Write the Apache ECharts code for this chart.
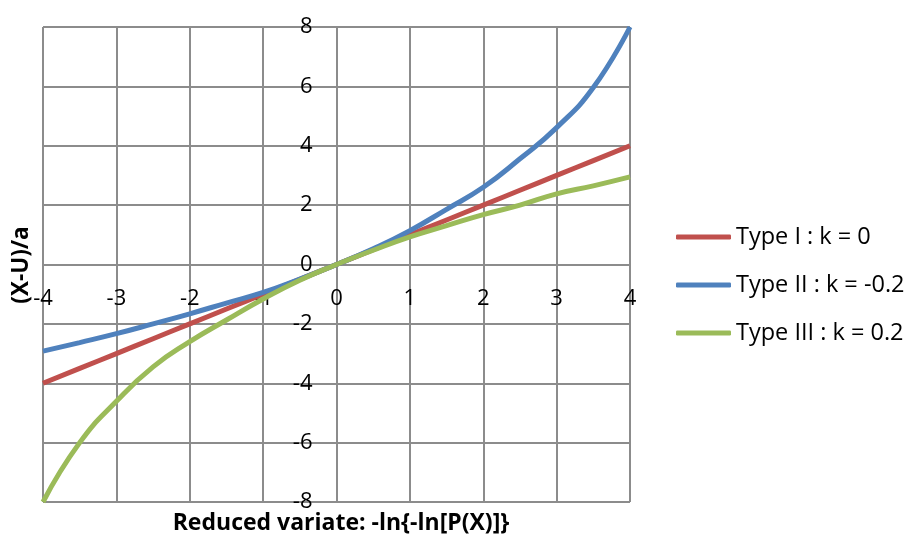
<!DOCTYPE html>
<html>
<head>
<meta charset="utf-8">
<script src="https://cdn.jsdelivr.net/npm/echarts@6/dist/echarts.min.js"></script>
<style>
html,body{margin:0;padding:0;background:#fff;}
#chart{width:907px;height:535px;}
</style>
</head>
<body>
<div id="chart"></div>
<script>
// Reduced variate values (x)
var xValues = [-4, -3.5, -3, -2.5, -2, -1.5, -1, -0.5, 0, 0.5, 1, 1.5, 2, 2.5, 3, 3.5, 4];
// Type I : k = 0
var typeI = [-4, -3.5, -3, -2.5, -2, -1.5, -1, -0.5, 0, 0.5, 1, 1.5, 2, 2.5, 3, 3.5, 4];
// Type II : k = -0.2
var typeII = [-2.92, -2.63, -2.33, -2.0, -1.66, -1.3, -0.94, -0.49, 0, 0.53, 1.14, 1.86, 2.6, 3.56, 4.61, 5.96, 8.0];
// Type III : k = 0.2
var typeIII = [-8.0, -6.0, -4.61, -3.45, -2.6, -1.87, -1.16, -0.53, 0, 0.48, 0.93, 1.31, 1.68, 2.0, 2.38, 2.65, 2.95];

var seriesNames = ['Type I : k = 0', 'Type II : k = -0.2', 'Type III : k = 0.2'];
var seriesColors = ['#C0504D', '#4F81BD', '#9BBB59'];
var xTitle = 'Reduced variate: -ln{-ln[P(X)]}';
var yTitle = '(X-U)/a';

function pairs(ys) {
  return xValues.map(function (x, i) { return [x, ys[i]]; });
}

var FONT = 'Open Sans';
var chart = echarts.init(document.getElementById('chart'), null, {renderer: 'canvas'});
var gridColor = '#8c8c8c';
var G = {left: 43, right: 277, top: 27, bottom: 33};
var plotW = 907 - G.left - G.right;
var plotH = 535 - G.top - G.bottom;

var option = {
  animation: false,
  backgroundColor: '#ffffff',
  grid: {left: G.left, right: G.right, top: G.top, bottom: G.bottom, containLabel: false},
  xAxis: {
    type: 'value', min: -4, max: 4, interval: 1, position: 'bottom',
    offset: -plotH / 2,
    axisLine: {show: true, onZero: false, lineStyle: {color: gridColor, width: 2}},
    axisTick: {show: false},
    axisLabel: {margin: 23, color: '#000', fontFamily: FONT, fontSize: 22},
    splitLine: {show: true, lineStyle: {color: gridColor, width: 2}}
  },
  yAxis: {
    type: 'value', min: -8, max: 8, interval: 2, position: 'left',
    offset: -plotW / 2,
    axisLine: {show: true, onZero: false, lineStyle: {color: gridColor, width: 2}},
    axisTick: {show: false},
    axisLabel: {margin: 24, color: '#000', fontFamily: FONT, fontSize: 22},
    splitLine: {show: true, lineStyle: {color: gridColor, width: 2}}
  },
  legend: {
    orient: 'vertical',
    left: 676, top: 224, padding: 0,
    itemWidth: 55, itemHeight: 5, itemGap: 22,
    icon: 'roundRect',
    textStyle: {fontFamily: FONT, fontSize: 23.5, color: '#000', lineHeight: 26},
    data: seriesNames
  },
  series: [typeI, typeII, typeIII].map(function (ys, i) {
    return {
      name: seriesNames[i], type: 'line', smooth: true, showSymbol: false,
      data: pairs(ys),
      lineStyle: {color: seriesColors[i], width: 5},
      itemStyle: {color: seriesColors[i]},
      z: 3 + (i === 2 ? 1 : 0)
    };
  }),
  graphic: [
    {type: 'text', x: 341, y: 523, style: {text: xTitle, fontFamily: FONT, fontWeight: 'bold', fontSize: 23, fill: '#000', align: 'center', verticalAlign: 'middle'}},
    {type: 'text', x: 22, y: 265, rotation: Math.PI / 2, style: {text: yTitle, fontFamily: FONT, fontWeight: 'bold', fontSize: 22.5, fill: '#000', align: 'center', verticalAlign: 'middle'}}
  ]
};
chart.setOption(option);
</script>
</body>
</html>
